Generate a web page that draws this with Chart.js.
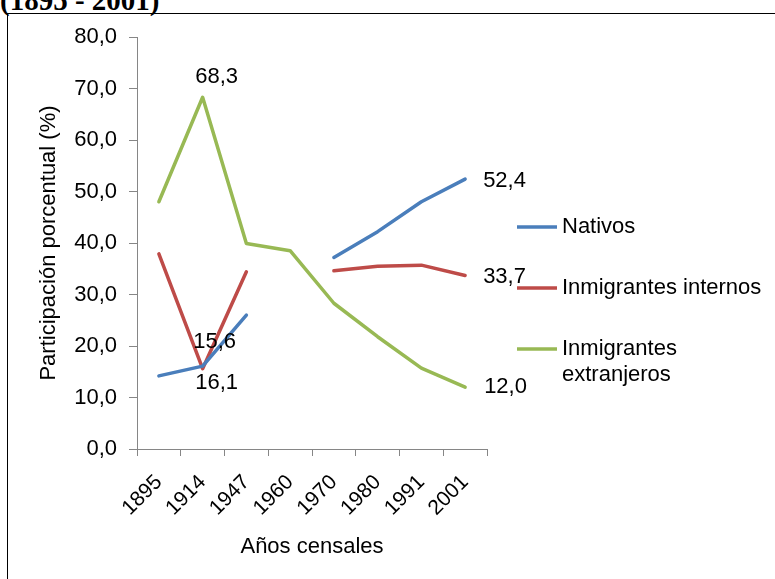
<!DOCTYPE html>
<html>
<head>
<meta charset="utf-8">
<script src="https://cdn.jsdelivr.net/npm/chart.js@4.4.1/dist/chart.umd.min.js"></script>
<style>
    html, body { margin: 0; padding: 0; background: #fff; overflow: hidden; }
    #page { position: relative; width: 775px; height: 579px; }
    #heading {
        position: absolute; left: 0; top: -14px;
        font: bold 29px/29px "Liberation Serif", "Times New Roman", serif;
        white-space: nowrap;
    }
    #frame {
        position: absolute; left: 7px; top: 13px; width: 800px; height: 600px;
        border: 1.5px solid #000; box-sizing: border-box;
    }
    #wrap { position: absolute; left: 0; top: 0; width: 775px; height: 579px; }
</style>
</head>
<body>
<div id="page">
    <div id="heading">(1895 - 2001)</div>
    <div id="frame"></div>
    <div id="wrap"><canvas id="myChart"></canvas></div>
</div>
<script>
const years = ['1895', '1914', '1947', '1960', '1970', '1980', '1991', '2001'];
const nativos = [14.2, 16.1, 26.0, null, 37.2, 42.2, 48.0, 52.4];
const internos = [37.9, 15.6, 34.4, null, 34.6, 35.5, 35.7, 33.7];
const extranjeros = [48.0, 68.3, 39.9, 38.5, 28.3, 21.8, 15.7, 12.0];
const yTicks = [0, 10, 20, 30, 40, 50, 60, 70, 80];

const FONT = 'Liberation Sans, Arial, sans-serif';
const fmt = (v) => v.toFixed(1).replace('.', ',');

// value labels: [dataset, index, dx, dy, align]
const valueLabels = [
    [2, 1, 14, -20, 'center'],
    [1, 1, 12, -27, 'center'],
    [0, 1, 14, 17, 'center'],
    [0, 7, 18, 2, 'left'],
    [1, 7, 18, 1, 'left'],
    [2, 7, 19, 0, 'left'],
];

const labelPlugin = {
    id: 'valueLabels',
    afterDatasetsDraw(chart) {
        const ctx = chart.ctx;
        ctx.save();
        ctx.font = '22px ' + FONT;
        ctx.fillStyle = '#000';
        ctx.textBaseline = 'middle';
        valueLabels.forEach(([ds, i, dx, dy, align]) => {
            const pt = chart.getDatasetMeta(ds).data[i];
            const v = chart.data.datasets[ds].data[i];
            ctx.textAlign = align;
            ctx.fillText(fmt(v), pt.x + dx, pt.y + dy);
        });
        ctx.restore();
    }
};

const legendPlugin = {
    id: 'sideLegend',
    afterDraw(chart) {
        const ctx = chart.ctx;
        const rows = [227, 288, 349];
        ctx.save();
        ctx.font = '22px ' + FONT;
        ctx.fillStyle = '#000';
        ctx.textBaseline = 'middle';
        ctx.textAlign = 'left';
        chart.data.datasets.forEach((ds, i) => {
            const y = rows[i];
            ctx.strokeStyle = ds.borderColor;
            ctx.lineWidth = 3.5;
            ctx.beginPath();
            ctx.moveTo(517, y);
            ctx.lineTo(557, y);
            ctx.stroke();
            const lines = Array.isArray(ds.legendText) ? ds.legendText : [ds.label];
            lines.forEach((t, k) => ctx.fillText(t, 562, y + k * 26));
        });
        ctx.restore();
    }
};

const ctx = document.getElementById('myChart');
new Chart(ctx, {
    type: 'line',
    data: {
        labels: years,
        datasets: [
            { label: 'Nativos', data: nativos, borderColor: '#4A7EBB' },
            { label: 'Inmigrantes internos', data: internos, borderColor: '#BE4B48' },
            { label: 'Inmigrantes extranjeros', legendText: ['Inmigrantes', 'extranjeros'], data: extranjeros, borderColor: '#98B954' },
        ]
    },
    options: {
        responsive: true,
        maintainAspectRatio: false,
        animation: false,
        events: [],
        spanGaps: false,
        elements: {
            line: { tension: 0, borderWidth: 3.5, borderCapStyle: 'round', borderJoinStyle: 'round' },
            point: { radius: 0 }
        },
        layout: { padding: { left: 0, top: 37, right: 288, bottom: 0 } },
        plugins: { legend: { display: false }, tooltip: { enabled: false } },
        scales: {
            x: {
                offset: true,
                afterFit: (scale) => { scale.height = 130; },
                grid: { offset: true, drawOnChartArea: false, tickLength: 7, color: '#868686' },
                border: { color: '#868686', width: 1 },
                ticks: {
                    minRotation: 45, maxRotation: 45, padding: 14,
                    color: '#000', font: { family: FONT, size: 21 }
                },
                title: {
                    display: true, text: 'Años censales', color: '#000',
                    font: { family: FONT, size: 22 }, padding: { top: 0, bottom: 19 }
                }
            },
            y: {
                min: 0, max: 80,
                afterFit: (scale) => { scale.width = 137; },
                afterBuildTicks: (scale) => { scale.ticks = yTicks.map(v => ({ value: v })); },
                grid: { drawOnChartArea: false, tickLength: 8, color: '#868686' },
                border: { color: '#868686', width: 1 },
                ticks: {
                    padding: 12, color: '#000', font: { family: FONT, size: 22 },
                    callback: (val) => fmt(val)
                },
                title: {
                    display: true, text: 'Participación porcentual (%)', color: '#000',
                    font: { family: FONT, size: 22 }, padding: { top: 36, bottom: 0 }
                }
            }
        }
    },
    plugins: [labelPlugin, legendPlugin]
});
</script>
</body>
</html>
